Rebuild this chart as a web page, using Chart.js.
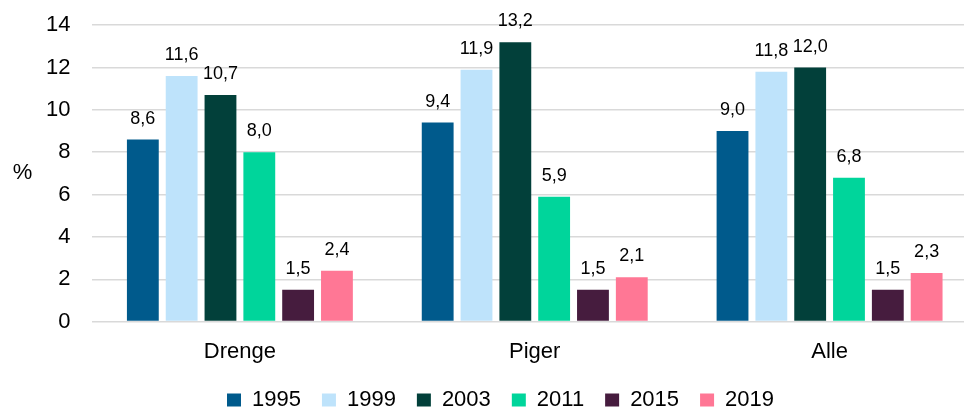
<!DOCTYPE html>
<html>
<head>
<meta charset="utf-8">
<script src="https://cdn.jsdelivr.net/npm/chart.js@4"></script>
<style>
    html, body { margin: 0; padding: 0; background: #fff; overflow: hidden; }
    #wrap { width: 964px; height: 410px; overflow: hidden; position: relative; }
    #chart { position: absolute; left: 0; top: -10px; }
</style>
</head>
<body>
<div id="wrap"><canvas id="chart" width="1004" height="431"></canvas></div>
<script>
const categories = ['Drenge', 'Piger', 'Alle'];
const years = ['1995', '1999', '2003', '2011', '2015', '2019'];
const colors = ['#005a8c', '#bee3fb', '#02403a', '#00d59b', '#461c3e', '#ff7795'];
const values1995 = [8.6, 9.4, 9.0];
const values1999 = [11.6, 11.9, 11.8];
const values2003 = [10.7, 13.2, 12.0];
const values2011 = [8.0, 5.9, 6.8];
const values2015 = [1.5, 1.5, 1.5];
const values2019 = [2.4, 2.1, 2.3];
const seriesValues = [values1995, values1999, values2003, values2011, values2015, values2019];
const yTicks = [0, 2, 4, 6, 8, 10, 12, 14];

const font = 'Arial, "Liberation Sans", sans-serif';

// values above the bars (decimal comma) and the horizontal "%" axis title
const barLabels = {
    id: 'barLabels',
    afterDatasetsDraw(chart) {
        const ctx = chart.ctx;
        const area = chart.chartArea;
        ctx.save();
        ctx.font = '18px ' + font;
        ctx.fillStyle = '#000';
        ctx.textAlign = 'center';
        ctx.textBaseline = 'alphabetic';
        chart.data.datasets.forEach((ds, i) => {
            chart.getDatasetMeta(i).data.forEach((bar, j) => {
                ctx.fillText(ds.data[j].toFixed(1).replace('.', ','), bar.x, bar.y - 16);
            });
        });
        ctx.font = '22px ' + font;
        ctx.textBaseline = 'middle';
        ctx.fillText('%', area.left - 70, (area.top + area.bottom) / 2);
        ctx.restore();
    }
};

new Chart(document.getElementById('chart'), {
    type: 'bar',
    data: {
        labels: categories,
        datasets: years.map((y, i) => ({
            label: y,
            data: seriesValues[i],
            backgroundColor: colors[i],
            borderWidth: 0,
            categoryPercentage: 0.79,
            barPercentage: 0.82
        }))
    },
    options: {
        responsive: false,
        animation: false,
        layout: { padding: { top: 6, right: 27, left: 24, bottom: 0 } },
        plugins: {
            legend: {
                position: 'bottom',
                labels: {
                    font: { family: font, size: 22 },
                    color: '#000',
                    boxWidth: 14,
                    boxHeight: 13,
                    padding: 21
                }
            },
            tooltip: { enabled: false }
        },
        scales: {
            x: {
                grid: { display: false },
                border: { display: false },
                ticks: { font: { family: font, size: 22 }, color: '#000', padding: 9 },
                afterFit: (axis) => { axis.height -= 6; }
            },
            y: {
                min: 0,
                max: 14,
                afterBuildTicks: (axis) => { axis.ticks = yTicks.map(v => ({ value: v })); },
                ticks: { font: { family: font, size: 22 }, color: '#000', padding: 22 },
                grid: { color: '#d9d9d9', lineWidth: 1.5, drawTicks: false },
                border: { display: false }
            }
        }
    },
    plugins: [barLabels]
});
</script>
</body>
</html>
